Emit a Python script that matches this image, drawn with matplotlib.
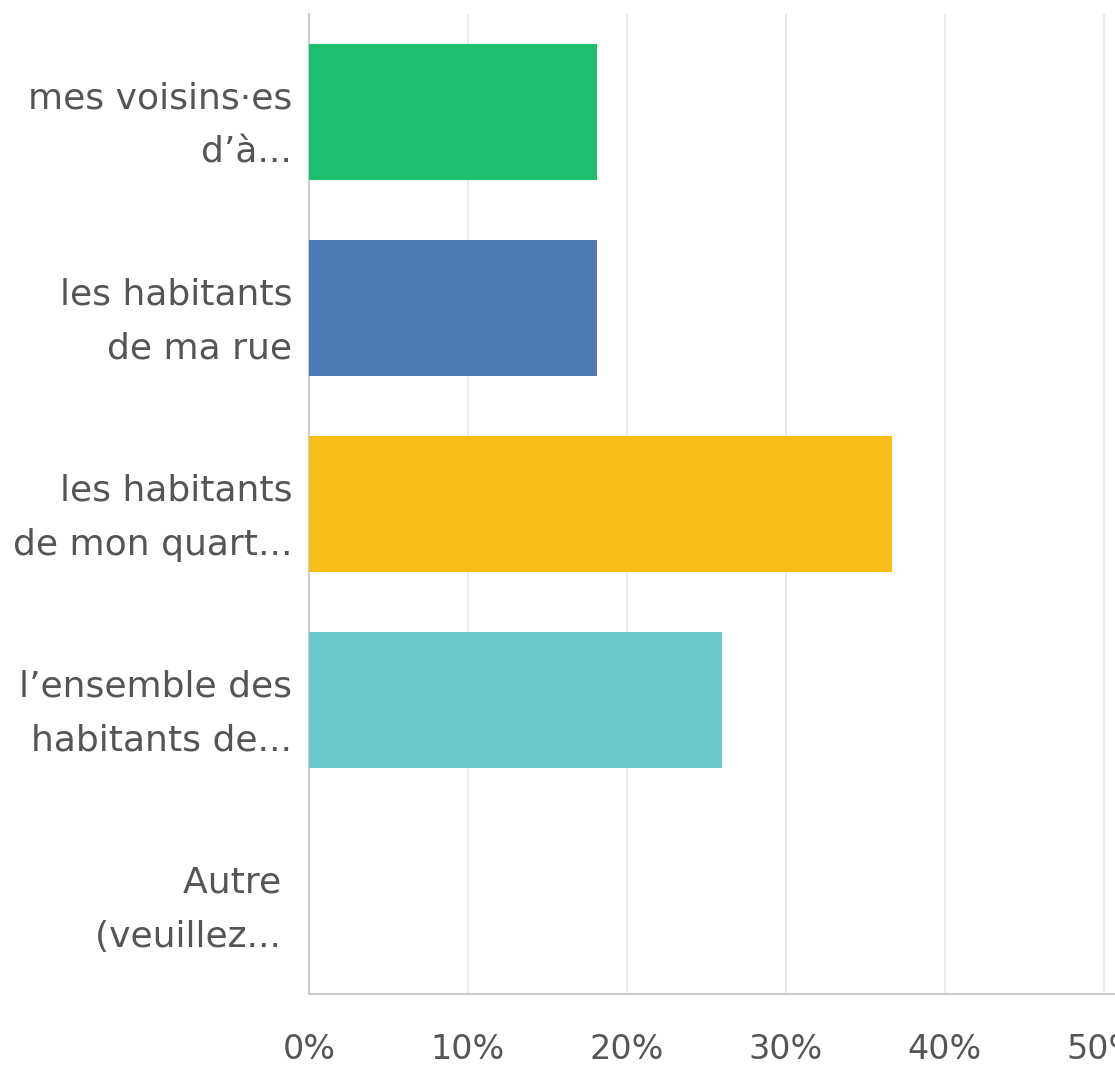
import matplotlib
matplotlib.use("Agg")
import matplotlib.pyplot as plt
from matplotlib.ticker import FuncFormatter


categories = [
    "mes voisins\u00b7es\nd\u2019\u00e0...",
    "les habitants\nde ma rue",
    "les habitants\nde mon quart...",
    "l\u2019ensemble des\nhabitants de...",
    "Autre \n(veuillez... ",
]
percents = [18.1, 18.1, 36.7, 26.0, 0.0]
colors = ["#1dbf6f", "#4d7ab5", "#f8be15", "#6cc8cc", "#9e9e9e"]
xticks = [0, 10, 20, 30, 40, 50]


def main():
    plt.rcParams["font.family"] = ["DejaVu Sans"]

    fig = plt.figure(figsize=(11.15, 10.65), dpi=100)
    ax = fig.add_axes([309 / 1115, 71 / 1065, 1 - 309 / 1115, 980 / 1065])

    ypos = list(range(len(categories)))
    ax.barh(ypos, percents, height=0.69, color=colors, zorder=3)

    ax.set_ylim(len(categories) - 0.5, -0.5)
    ax.set_xlim(0, 50.7)
    ax.set_yticks(ypos)
    ax.set_yticklabels(categories, fontsize=26, color="#555555",
                       linespacing=1.75, ha="right")
    ax.set_xticks(xticks)
    ax.xaxis.set_major_formatter(FuncFormatter(lambda v, p: f"{v:.0f}%"))
    ax.tick_params(axis="x", length=0, pad=28, labelsize=24, labelcolor="#555555")
    ax.tick_params(axis="y", length=0, pad=12)

    ax.grid(axis="x", color="#e6e6e6", linewidth=1.2, zorder=0)
    for side in ("top", "right"):
        ax.spines[side].set_visible(False)
    for side in ("left", "bottom"):
        ax.spines[side].set_color("#cccccc")
        ax.spines[side].set_linewidth(1.5)

    fig.savefig("out.png", dpi=100, facecolor="white")


if __name__ == "__main__":
    main()
